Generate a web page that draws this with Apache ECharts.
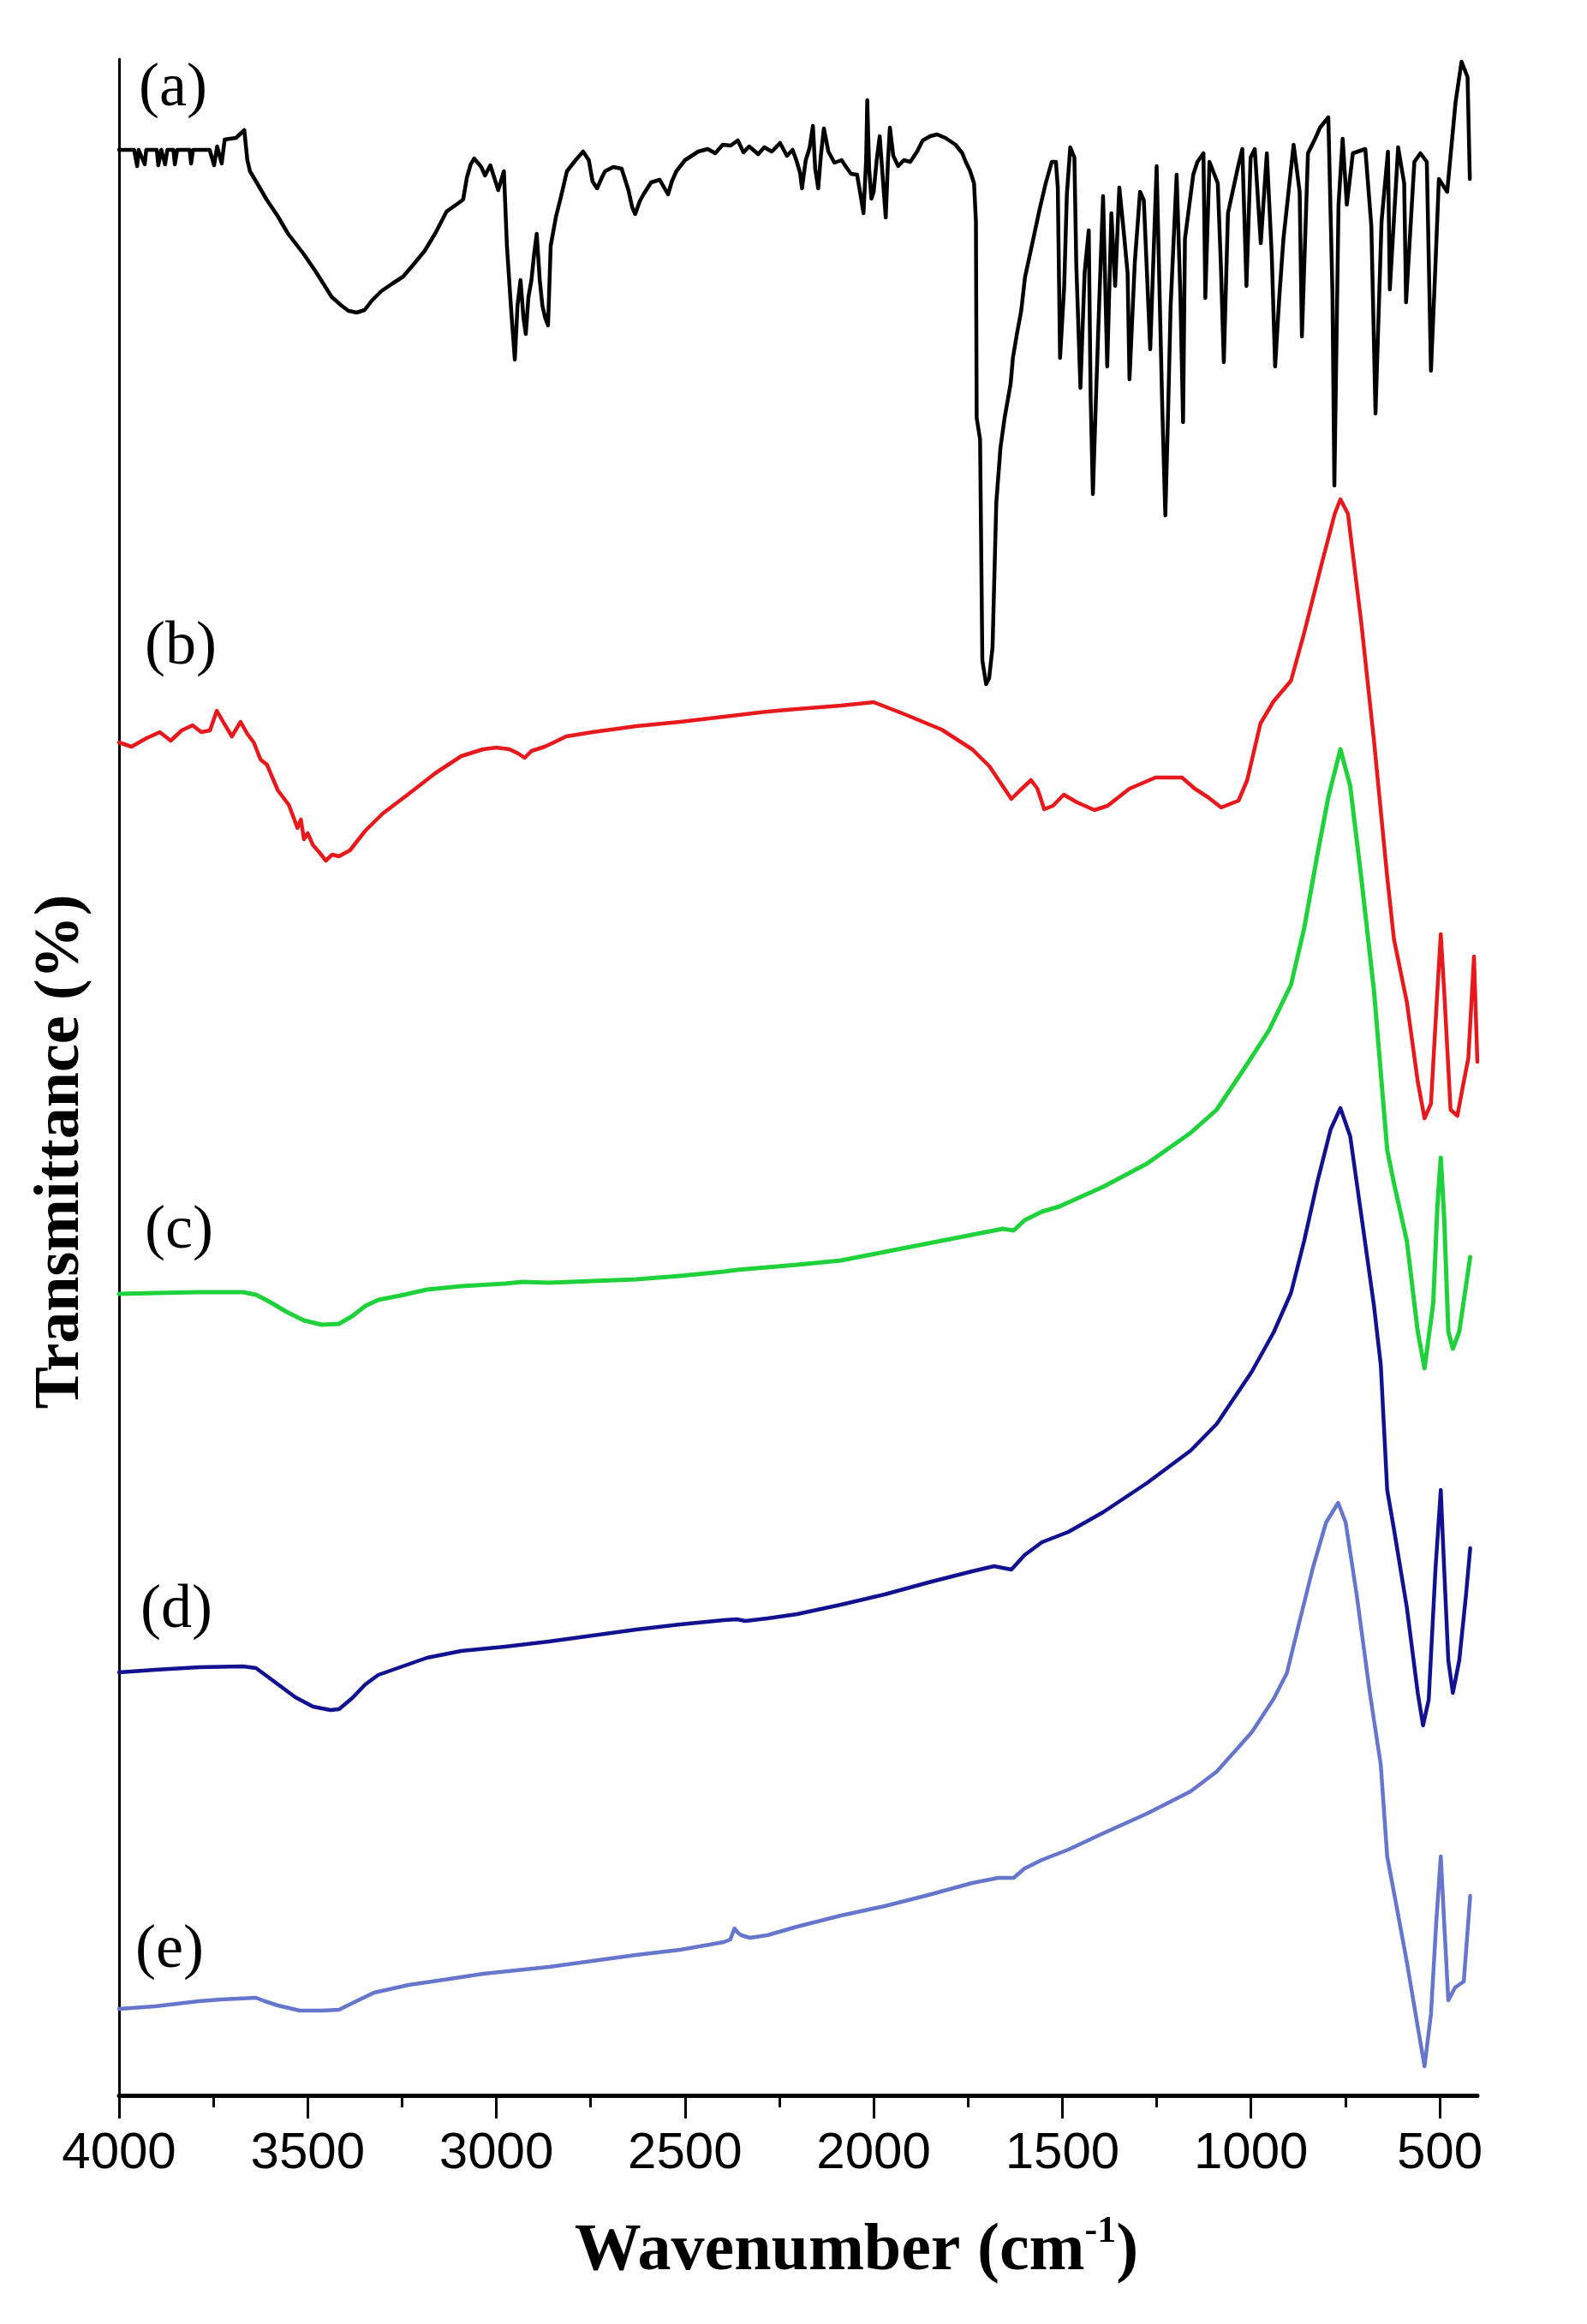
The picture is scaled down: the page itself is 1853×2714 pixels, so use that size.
<!DOCTYPE html>
<html>
<head>
<meta charset="utf-8">
<script src="https://cdn.jsdelivr.net/npm/echarts@6/dist/echarts.min.js"></script>
<style>html,body{margin:0;padding:0;background:#fff}#chart{width:1853px;height:2714px}</style>
</head>
<body>
<div id="chart"></div>
<script>
// Wavenumber (cm-1), offset transmittance (a.u.)
const traceA = [
[4000,227.2],[3960,227.2],[3952,225.3],[3948,227.2],[3932,225.5],[3928,227.2],[3900,227.2],[3896,225.4],[3888,227.2],
[3878,225.5],[3872,227.2],[3856,227.2],[3852,225.5],[3846,227.2],[3813,227.2],[3809,225.6],[3804,227.2],[3760,227.2],
[3748,225.4],[3740,227.6],[3728,225.6],[3720,228.4],[3690,228.6],[3668,229.5],[3660,226.0],[3653,224.7],[3630,223.0],
[3609,221.4],[3580,219.5],[3552,217.4],[3510,215.0],[3479,213.0],[3436,210.0],[3410,209.0],[3392,208.4],[3370,208.2],
[3349,208.5],[3330,209.6],[3305,210.7],[3275,211.6],[3247,212.4],[3220,213.8],[3190,215.4],[3160,217.6],[3132,220.0],
[3100,221.0],[3088,221.4],[3078,224.0],[3068,225.5],[3059,226.2],[3040,225.2],[3030,224.2],[3016,225.4],[2995,222.5],
[2980,224.7],[2972,216.0],[2960,208.0],[2951,202.7],[2944,209.0],[2936,212.0],[2928,207.5],[2922,205.7],[2915,210.0],
[2907,212.0],[2900,215.0],[2893,217.4],[2885,212.0],[2878,209.0],[2870,207.5],[2863,206.7],[2856,216.0],[2842,219.4],
[2830,221.5],[2813,224.7],[2790,226.0],[2770,227.0],[2755,226.0],[2745,223.5],[2733,222.7],[2720,224.0],[2712,224.7],
[2690,225.2],[2668,225.0],[2650,222.5],[2640,220.5],[2632,219.7],[2620,221.2],[2610,222.0],[2590,223.4],[2567,223.7],
[2545,222.0],[2535,223.5],[2523,224.7],[2500,226.0],[2465,227.0],[2440,227.3],[2420,226.8],[2400,227.8],[2379,227.7],
[2360,228.3],[2345,226.9],[2330,227.6],[2306,226.7],[2290,227.5],[2270,227.0],[2248,228.0],[2230,226.5],[2215,227.2],
[2205,226.0],[2195,224.5],[2190,222.7],[2180,226.0],[2170,227.4],[2161,230.0],[2155,225.0],[2147,222.7],[2140,226.5],
[2132,229.7],[2120,227.0],[2104,225.7],[2085,226.0],[2070,225.0],[2060,224.4],[2044,224.3],[2035,222.0],[2027,219.8],
[2020,226.0],[2017,233.0],[2012,225.0],[2006,221.5],[2000,222.3],[1992,226.0],[1984,228.8],[1976,224.0],[1968,219.3],
[1962,226.0],[1957,229.8],[1948,226.5],[1935,225.3],[1920,226.0],[1903,225.8],[1885,227.0],[1870,228.3],[1850,228.8],
[1832,229.0],[1810,228.6],[1783,227.8],[1765,226.8],[1756,225.8],[1745,224.8],[1734,223.3],[1729,218.8],[1727,195.9],
[1718,193.4],[1712,167.6],[1702,164.8],[1694,165.5],[1685,169.1],[1675,186.0],[1664,192.4],[1653,195.9],[1637,199.9],
[1631,202.9],[1620,205.8],[1609,208.4],[1599,212.3],[1577,216.8],[1560,220.3],[1544,223.3],[1528,225.8],[1517,225.8],
[1512,222.8],[1506,202.9],[1495,211.3],[1488,222.0],[1479,227.5],[1468,226.3],[1463,213.8],[1452,199.4],[1441,212.8],
[1430,217.8],[1425,198.4],[1419,187.0],[1411,198.0],[1403,208.4],[1392,221.8],[1381,201.9],[1370,219.8],[1360,211.3],
[1349,222.8],[1338,218.0],[1327,212.8],[1322,200.4],[1308,214.0],[1294,222.3],[1284,221.3],[1267,203.9],[1250,225.3],
[1242,210.0],[1235,196.9],[1227,184.5],[1220,196.0],[1213,208.9],[1197,224.3],[1187,210.0],[1180,195.4],[1175,216.8],
[1153,224.3],[1142,225.8],[1126,226.8],[1121,209.9],[1110,225.8],[1088,223.3],[1080,214.0],[1072,202.4],[1061,219.8],
[1034,225.3],[1023,227.3],[1012,211.3],[1001,226.3],[990,227.3],[974,216.3],[958,226.8],[945,215.0],[936,201.9],
[925,210.0],[914,216.8],[900,222.5],[887,227.8],[871,222.3],[865,205.4],[849,226.8],[830,228.5],[817,229.8],
[795,231.0],[784,210.3],[779,188.0],[768,220.8],[757,228.5],[746,220.8],[730,226.8],[697,227.3],[681,218.3],
[670,196.4],[654,218.8],[637,227.0],[632,210.9],[610,227.5],[594,223.3],[589,209.4],[567,225.8],[551,226.8],
[534,225.8],[523,201.4],[512,212.8],[502,223.8],[480,222.3],[458,232.7],[442,237.5],[426,235.7],[420,223.8]
];
const traceB = [
[4000,158.0],[3967,157.5],[3927,158.5],[3892,159.2],[3863,158.2],[3834,159.4],[3805,160.0],[3782,159.2],[3759,159.4],
[3741,161.7],[3724,160.4],[3701,158.7],[3678,160.4],[3660,159.0],[3643,158.0],[3625,156.0],[3608,155.4],[3579,152.4],
[3550,150.7],[3527,148.0],[3518,149.0],[3510,146.7],[3500,147.4],[3486,146.0],[3470,145.2],[3452,144.2],[3435,144.9],
[3417,144.7],[3388,145.4],[3347,147.7],[3301,149.7],[3232,152.0],[3162,154.4],[3093,156.4],[3035,157.2],[3000,157.4],
[2965,157.2],[2942,156.7],[2925,156.2],[2907,157.0],[2872,157.5],[2838,158.2],[2815,158.7],[2745,159.2],[2629,159.9],
[2513,160.4],[2397,161.0],[2282,161.6],[2203,161.9],[2087,162.3],[2000,162.7],[1913,161.2],[1820,159.5],[1739,157.2],
[1693,155.2],[1658,152.9],[1635,151.4],[1612,152.4],[1583,153.6],[1566,152.6],[1548,150.2],[1525,150.6],[1496,151.9],
[1461,151.0],[1415,150.1],[1380,150.6],[1322,152.6],[1253,153.9],[1183,153.9],[1149,152.6],[1114,151.6],[1079,150.4],
[1033,151.2],[1010,153.6],[975,160.2],[940,162.8],[894,165.2],[859,170.8],[813,178.8],[778,184.7],[763,186.4],
[743,184.7],[708,172.1],[674,158.2],[639,142.3],[621,135.0],[587,127.7],[558,118.4],[540,114.1],[523,115.8],
[506,129.0],[497,135.6],[488,129.0],[471,115.1],[453,114.4],[436,118.4],[424,121.1],[409,133.0],[400,120.7]
];
const traceC = [
[4000,93.6],[3904,93.7],[3788,93.8],[3672,93.8],[3637,93.5],[3602,92.7],[3556,91.5],[3510,90.5],[3463,90.0],
[3417,90.1],[3382,91.0],[3347,92.2],[3313,92.9],[3255,93.4],[3184,94.1],[3093,94.5],[2977,94.8],[2930,95.0],
[2861,94.9],[2745,95.1],[2629,95.3],[2513,95.7],[2397,96.2],[2363,96.4],[2282,96.7],[2203,97.0],[2087,97.5],
[1971,98.5],[1855,99.5],[1739,100.5],[1658,101.2],[1629,101.0],[1600,102.2],[1554,103.2],[1508,103.8],[1392,106.1],
[1276,108.8],[1160,112.4],[1091,115.1],[1021,119.7],[952,124.4],[894,129.7],[859,136.3],[824,144.9],[795,151.6],
[763,157.2],[737,152.9],[708,142.3],[674,129.0],[639,110.4],[621,106.5],[587,99.8],[558,89.2],[540,84.9],
[517,92.5],[506,103.8],[497,109.5],[488,102.5],[477,89.2],[465,87.2],[448,89.2],[419,97.9]
];
const traceD = [
[4000,49.4],[3904,49.7],[3788,50.0],[3672,50.1],[3637,49.9],[3591,48.4],[3533,46.5],[3486,45.4],[3440,45.0],
[3417,45.1],[3382,46.4],[3347,48.0],[3313,49.1],[3255,50.0],[3184,51.1],[3093,51.9],[2977,52.4],[2861,53.0],
[2745,53.7],[2629,54.4],[2513,55.0],[2397,55.5],[2363,55.6],[2340,55.4],[2282,55.7],[2203,56.2],[2087,57.3],
[1971,58.5],[1855,59.9],[1739,61.2],[1681,61.8],[1635,61.4],[1600,63.1],[1554,64.6],[1484,65.8],[1392,68.1],
[1276,71.5],[1160,75.3],[1091,78.4],[998,84.5],[940,89.1],[894,93.7],[859,99.8],[824,106.7],[789,112.8],
[763,115.3],[737,112.0],[708,102.9],[674,92.2],[656,85.3],[639,70.7],[621,66.1],[587,57.0],[558,47.0],
[544,43.2],[529,46.2],[511,61.5],[497,70.7],[488,61.5],[477,50.8],[465,47.0],[448,50.8],[430,58.5],[419,63.9]
];
const traceE = [
[4000,10.1],[3904,10.4],[3788,11.0],[3730,11.2],[3637,11.4],[3614,11.0],[3579,10.5],[3521,9.9],[3463,9.9],
[3417,10.0],[3371,11.0],[3324,12.0],[3232,12.9],[3139,13.5],[3035,14.2],[2861,15.0],[2745,15.7],[2629,16.4],
[2513,17.0],[2397,17.9],[2380,18.2],[2369,19.5],[2360,19.0],[2351,18.7],[2328,18.4],[2282,18.7],[2203,19.7],
[2087,21.0],[1971,22.1],[1855,23.4],[1739,24.8],[1670,25.4],[1629,25.4],[1600,26.5],[1554,27.5],[1484,28.7],
[1392,30.6],[1276,32.9],[1160,35.5],[1091,37.8],[998,42.4],[940,46.3],[905,49.3],[871,55.4],[836,61.6],
[801,66.9],[769,69.2],[749,66.9],[720,58.5],[685,47.0],[656,38.6],[639,27.9],[616,22.5],[587,15.6],
[558,8.0],[540,3.4],[523,9.5],[509,20.2],[497,27.9],[488,20.2],[477,11.1],[459,12.6],[436,13.3],[419,23.3]
];
const xTicks = [4000,3500,3000,2500,2000,1500,1000,500];
const xMinorTicks = [3750,3250,2750,2250,1750,1250,750];
const traceNames = ['(a)','(b)','(c)','(d)','(e)'];

const traces = [traceA, traceB, traceC, traceD, traceE];
const colors = ['#000000','#e8191c','#1fd13a','#121290','#6676cc'];
const widths = [4.5, 4.5, 5, 4.5, 4.5];
const labelPos = [[202,104],[211,756],[209,1438],[206,1881],[198,2278]];

const chart = echarts.init(document.getElementById('chart'), null, {renderer:'canvas'});
const serif = '"Liberation Serif","Times New Roman",serif';
const sans = '"Liberation Sans",Arial,sans-serif';

const option = {
  animation: false,
  backgroundColor: '#fff',
  grid: {left: 139, right: 128, top: 69, bottom: 267, containLabel: false},
  xAxis: [{
    type: 'value', min: 400, max: 4000, inverse: true, position: 'bottom',
    axisLine: {show: true, onZero: false, lineStyle: {color: '#000', width: 5}},
    axisTick: {show: true, customValues: xTicks, length: 27, inside: false, lineStyle: {color: '#000', width: 3}},
    axisLabel: {show: true, customValues: xTicks, fontFamily: sans, fontSize: 60, color: '#000', margin: 38,
                formatter: v => String(v)},
    splitLine: {show: false},
    name: '{t|Wavenumber (cm}{s|-1}{t|)}',
    nameLocation: 'middle', nameGap: 138,
    nameTextStyle: {
      padding: [0, 0, 0, 136],
      rich: {
        t: {fontFamily: serif, fontWeight: 'bold', fontSize: 78, color: '#000', lineHeight: 90},
        s: {fontFamily: serif, fontWeight: 'bold', fontSize: 44, color: '#000', lineHeight: 44, verticalAlign: 'top'}
      }
    }
  }, {
    type: 'value', min: 400, max: 4000, inverse: true, position: 'bottom',
    axisLine: {show: false, onZero: false},
    axisTick: {show: true, customValues: xMinorTicks, length: 14, inside: false, lineStyle: {color: '#000', width: 3}},
    axisLabel: {show: false},
    splitLine: {show: false}
  }],
  yAxis: {
    type: 'value', min: 0, max: 237.8,
    axisLine: {show: true, onZero: false, lineStyle: {color: '#000', width: 3}},
    axisTick: {show: false}, axisLabel: {show: false}, splitLine: {show: false},
    name: 'Transmittance (%)', nameLocation: 'middle', nameGap: 30, nameRotate: 90,
    nameTextStyle: {fontFamily: serif, fontWeight: 'bold', fontSize: 74, color: '#000', padding: [0, 174, 0, 0]}
  },
  series: traces.map((t, i) => ({
    type: 'line', name: traceNames[i], data: t, xAxisIndex: 0, yAxisIndex: 0,
    showSymbol: false, symbol: 'none', smooth: false,
    lineStyle: {color: colors[i], width: widths[i], join: 'round', cap: 'round'},
    itemStyle: {color: colors[i]},
    z: 10 - i
  })),
  graphic: traceNames.map((n, i) => ({
    type: 'text', x: labelPos[i][0], y: labelPos[i][1],
    style: {text: n, fontFamily: serif, fontSize: 72, fill: '#000',
            align: 'center', verticalAlign: 'middle', textAlign: 'center', textVerticalAlign: 'middle'}
  }))
};
chart.setOption(option);
</script>
</body>
</html>
